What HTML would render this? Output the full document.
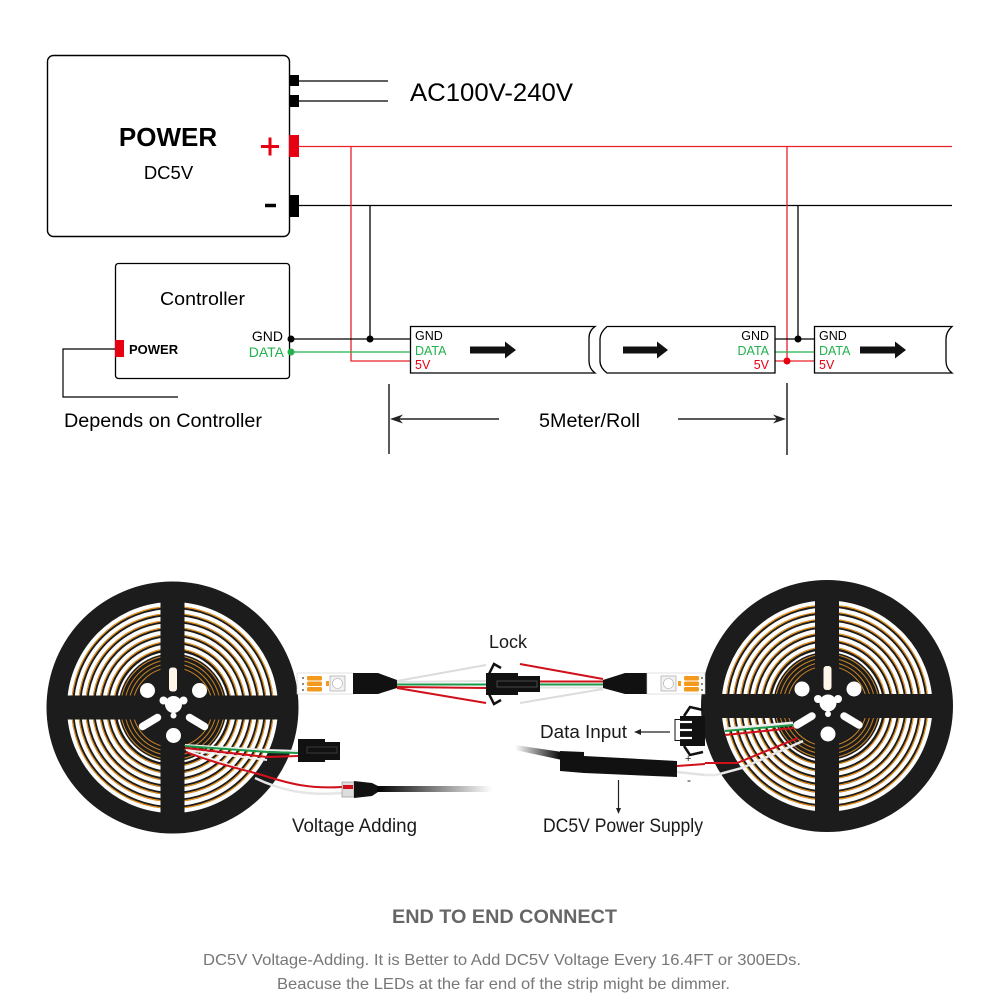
<!DOCTYPE html>
<html><head><meta charset="utf-8"><style>
html,body{margin:0;padding:0;background:#fff;}
svg{display:block;font-family:"Liberation Sans",Arial,sans-serif;}
</style></head><body>
<svg width="1000" height="1000" viewBox="0 0 1000 1000" xmlns="http://www.w3.org/2000/svg">
<defs>
  <clipPath id="win">
    <path d="M-12,-106 L-12,-12 L-106,-12 A106,106 0 0 1 -12,-106Z M12,-106 A106,106 0 0 1 106,-12 L12,-12Z M12,12 L106,12 A106,106 0 0 1 12,106Z M-12,12 L-12,106 A106,106 0 0 1 -106,12Z"/>
  </clipPath>
  <linearGradient id="cab1" x1="0" x2="1" y1="0" y2="0">
    <stop offset="0" stop-color="#000"/><stop offset="1" stop-color="#000" stop-opacity="0"/>
  </linearGradient>
  <linearGradient id="cab2" x1="0" x2="1" y1="0" y2="0">
    <stop offset="0" stop-color="#000" stop-opacity="0"/><stop offset="1" stop-color="#000"/>
  </linearGradient>
  <g id="reel">
    <circle r="126" fill="#1c1c1c"/>
    <g clip-path="url(#win)" fill="none">
      <g stroke="#fff" stroke-width="4">
        <circle r="103.5"/><circle r="96.5"/><circle r="89.5"/><circle r="82.5"/><circle r="75.5"/><circle r="68.5"/><circle r="61.5"/>
      </g>
      <g stroke="#f0961c" stroke-width="1.1">
        <circle r="100.9"/><circle r="93.9"/><circle r="86.9"/><circle r="79.9"/><circle r="72.9"/><circle r="65.9"/><circle r="58.9"/>
      </g>
      <g stroke="#fff" stroke-width="2">
        <circle r="55"/>
      </g>
      <g stroke="#c98427" stroke-width="1">
        <circle r="52"/><circle r="48"/><circle r="44"/><circle r="40"/>
      </g>
    </g>
    <rect x="-3.5" y="-40" width="8" height="24" rx="3" fill="#fff6ea"/>
    <circle cx="-25" cy="-17" r="7.5" fill="#fff"/>
    <circle cx="27" cy="-17" r="7.5" fill="#fff"/>
    <circle cx="1" cy="28" r="7.5" fill="#fff"/>
    <g fill="#fff">
      <circle cx="1" cy="-3" r="8.5"/>
      <circle cx="-9" cy="-7" r="4"/>
      <circle cx="11" cy="-7" r="4"/>
      <circle cx="1" cy="8" r="3"/>
    </g>
    <g stroke="#fff" stroke-width="7.5" stroke-linecap="round">
      <line x1="-30" y1="19" x2="-15" y2="10"/>
      <line x1="17" y1="10" x2="32" y2="19"/>
    </g>
  </g>
</defs>

<!-- ================= TOP DIAGRAM ================= -->
<rect x="47.5" y="55.5" width="242" height="181" rx="6" fill="#fff" stroke="#000" stroke-width="1.4"/>
<text x="168" y="146" font-size="26" font-weight="bold" text-anchor="middle" fill="#000">POWER</text>
<text x="168.5" y="179" font-size="18.5" text-anchor="middle" fill="#000">DC5V</text>

<rect x="289" y="75" width="10" height="11" fill="#000"/>
<rect x="289" y="95" width="10" height="12" fill="#000"/>
<rect x="289" y="135" width="10" height="22" fill="#e60012"/>
<rect x="289" y="195" width="10" height="22" fill="#000"/>
<g stroke="#e60012" stroke-width="3">
  <line x1="261" y1="146.5" x2="279" y2="146.5"/>
  <line x1="270" y1="137.5" x2="270" y2="155.5"/>
</g>
<line x1="265" y1="205.5" x2="276" y2="205.5" stroke="#000" stroke-width="3.5"/>

<g stroke="#000" stroke-width="1.3" fill="none">
  <line x1="299" y1="81" x2="388" y2="81"/>
  <line x1="299" y1="101" x2="388" y2="101"/>
  <line x1="299" y1="205.5" x2="952" y2="205.5"/>
  <line x1="370" y1="205" x2="370" y2="339"/>
  <line x1="798" y1="205" x2="798" y2="339"/>
</g>
<text x="410" y="101" font-size="25" textLength="163" lengthAdjust="spacingAndGlyphs" fill="#000">AC100V-240V</text>

<g stroke="#e8212b" stroke-width="1.3" fill="none">
  <line x1="299" y1="146.5" x2="952" y2="146.5"/>
  <polyline points="351,146 351,361 410,361"/>
  <line x1="787" y1="146" x2="787" y2="361"/>
  <line x1="775" y1="361" x2="814" y2="361"/>
</g>

<!-- Controller -->
<rect x="115.5" y="263.5" width="174" height="115" rx="3" fill="#fff" stroke="#000" stroke-width="1.3"/>
<text x="202.5" y="305" font-size="18.5" text-anchor="middle" textLength="85" lengthAdjust="spacingAndGlyphs" fill="#000">Controller</text>
<text x="283" y="341" font-size="14" text-anchor="end" fill="#000">GND</text>
<text x="284" y="357" font-size="14" text-anchor="end" fill="#22b14c">DATA</text>
<rect x="115" y="340" width="9" height="17" fill="#e60012"/>
<text x="129" y="354" font-size="13" font-weight="bold" fill="#000">POWER</text>
<polyline points="115,349 63,349 63,397 178,397" fill="none" stroke="#000" stroke-width="1.2"/>
<text x="64" y="427" font-size="19" textLength="198" lengthAdjust="spacingAndGlyphs" fill="#000">Depends on Controller</text>

<line x1="290" y1="339" x2="410" y2="339" stroke="#000" stroke-width="1.3"/>
<line x1="290" y1="352" x2="410" y2="352" stroke="#22b14c" stroke-width="1.3"/>
<circle cx="291" cy="339" r="3.5" fill="#000"/>
<circle cx="291" cy="352" r="3.5" fill="#22b14c"/>
<circle cx="370" cy="339" r="3.5" fill="#000"/>

<line x1="775" y1="339" x2="814" y2="339" stroke="#000" stroke-width="1.3"/>
<line x1="775" y1="352" x2="814" y2="352" stroke="#22b14c" stroke-width="1.3"/>
<circle cx="798" cy="339" r="3.5" fill="#000"/>
<circle cx="787" cy="361" r="3.5" fill="#e60012"/>

<!-- Strips -->
<path d="M410.5,326.5 H595 C590,330 589,334 589,338 V361 C589,366 591,370 595,373 H410.5 Z" fill="#fff" stroke="#000" stroke-width="1.3"/>
<path d="M607,326.5 H775 V373 H607 C603,370 600,366 600,361 V339 C600,334 603,330 607,326.5 Z" fill="#fff" stroke="#000" stroke-width="1.3"/>
<path d="M814.5,326.5 H952 C947,331 946,335 946,339 V361 C946,366 948,370 952,373 H814.5 Z" fill="#fff" stroke="#000" stroke-width="1.3"/>

<g font-size="12.5">
  <text x="415" y="340" fill="#000">GND</text>
  <text x="415" y="355" fill="#22b14c">DATA</text>
  <text x="415" y="369" fill="#e60012">5V</text>
  <text x="769" y="340" fill="#000" text-anchor="end">GND</text>
  <text x="769" y="355" fill="#22b14c" text-anchor="end">DATA</text>
  <text x="769" y="369" fill="#e60012" text-anchor="end">5V</text>
  <text x="819" y="340" fill="#000">GND</text>
  <text x="819" y="355" fill="#22b14c">DATA</text>
  <text x="819" y="369" fill="#e60012">5V</text>
</g>
<g fill="#111">
  <polygon points="470,346.5 505,346.5 505,341.5 516,350 505,358.5 505,353.5 470,353.5"/>
  <polygon points="623,346.5 657,346.5 657,341.5 668,350 657,358.5 657,353.5 623,353.5"/>
  <polygon points="860,346.5 895,346.5 895,341.5 906,350 895,358.5 895,353.5 860,353.5"/>
</g>

<!-- Dimension -->
<g stroke="#222" stroke-width="1.5">
  <line x1="389" y1="384" x2="389" y2="454"/>
  <line x1="787" y1="383" x2="787" y2="455"/>
  <line x1="397" y1="419" x2="499" y2="419"/>
  <line x1="678" y1="419" x2="779" y2="419"/>
</g>
<polygon points="390,419 403,414.5 399,419 403,423.5" fill="#222"/>
<polygon points="786,419 773,414.5 777,419 773,423.5" fill="#222"/>
<text x="539" y="427" font-size="19.5" textLength="101" lengthAdjust="spacingAndGlyphs" fill="#000">5Meter/Roll</text>

<!-- ================= BOTTOM PHOTO-LIKE ================= -->
<use href="#reel" transform="translate(172.5,707.5)"/>
<use href="#reel" transform="translate(827,706)"/>

<!-- reel1 wires -->
<g fill="none" stroke-width="2">
  <path d="M185,745 L267,750 L298,751" stroke="#eee"/>
  <path d="M185,746 L267,752 L298,753" stroke="#1a9a48"/>
  <path d="M185,748 L267,757 L298,756" stroke="#d0101a"/>
  <path d="M186,750 L267,760" stroke="#eee"/>
  <path d="M188,751 L253,773" stroke="#eee"/>
  <path d="M186,752 C220,765 245,770 262,775 C290,784 310,789 342,787" stroke="#d0101a"/>
  <path d="M255,778 C280,790 305,796 342,793" stroke="#e6e6e6" stroke-width="2.5"/>
</g>
<!-- small connector reel1 -->
<rect x="298" y="739" width="27" height="23" fill="#111"/>
<rect x="324" y="742" width="16" height="18" fill="#111"/>
<rect x="307" y="747" width="30" height="6" fill="none" stroke="#444" stroke-width="0.8"/>
<!-- DC plug -->
<rect x="342" y="782" width="12" height="15" fill="#ddd" stroke="#888" stroke-width="0.6"/>
<rect x="343" y="785" width="10" height="4" fill="#d0101a"/>
<polygon points="354,781 372,783 378,786 378,792 372,796 354,798" fill="#111"/>
<rect x="377" y="786" width="115" height="6" fill="url(#cab1)"/>

<!-- left strip -->
<rect x="297" y="673" width="57" height="21" fill="#fff" stroke="#ccc" stroke-width="0.6"/>
<g fill="#f39a1e">
  <rect x="307" y="676" width="15" height="4.5" rx="1.5"/>
  <rect x="307" y="681.5" width="15" height="4.5" rx="1.5"/>
  <rect x="307" y="687" width="15" height="4.5" rx="1.5"/>
</g>
<g fill="#333"><circle cx="303" cy="678" r="0.9"/><circle cx="303" cy="684" r="0.9"/><circle cx="303" cy="690" r="0.9"/></g>
<rect x="326" y="681" width="3" height="5" fill="#f39a1e"/>
<rect x="330" y="676" width="15" height="15" fill="#f2f2f2" stroke="#999" stroke-width="0.6"/>
<circle cx="337.5" cy="683.5" r="5" fill="#fff" stroke="#aaa" stroke-width="0.6"/>
<polygon points="353,673 378,673 397,680 397,688 378,694 353,694" fill="#111"/>

<!-- lock wires -->
<g fill="none" stroke-width="2">
  <line x1="397" y1="681" x2="486" y2="665" stroke="#dcdcdc"/>
  <line x1="397" y1="682" x2="486" y2="681" stroke="#e2e2e2"/>
  <line x1="397" y1="684.5" x2="486" y2="684.5" stroke="#1a9a48"/>
  <line x1="397" y1="687" x2="486" y2="688" stroke="#d0101a"/>
  <line x1="397" y1="688" x2="486" y2="703" stroke="#d0101a"/>
  <line x1="520" y1="664" x2="603" y2="679" stroke="#d0101a"/>
  <line x1="540" y1="681.5" x2="603" y2="681.5" stroke="#d0101a"/>
  <line x1="540" y1="684.5" x2="603" y2="684.5" stroke="#1a9a48"/>
  <line x1="540" y1="687.5" x2="603" y2="687.5" stroke="#e2e2e2"/>
  <line x1="520" y1="703" x2="603" y2="689" stroke="#dcdcdc"/>
</g>
<!-- lock connector -->
<rect x="486" y="673" width="32" height="22" fill="#111"/>
<rect x="517" y="676" width="23" height="16" fill="#111"/>
<rect x="497" y="681" width="40" height="6" fill="none" stroke="#555" stroke-width="0.8"/>
<g fill="none" stroke="#111" stroke-width="2.5">
  <polyline points="489,674 494,664 501,668"/>
  <polyline points="489,694 494,704 501,700"/>
</g>
<text x="489" y="648" font-size="18" textLength="38" lengthAdjust="spacingAndGlyphs" fill="#1a1a1a">Lock</text>

<!-- right strip -->
<polygon points="603,680 625,673 647,673 647,694 625,694 603,688" fill="#111"/>
<rect x="647" y="673" width="58" height="21" fill="#fff" stroke="#ccc" stroke-width="0.6"/>
<rect x="661" y="676" width="15" height="15" fill="#f2f2f2" stroke="#999" stroke-width="0.6"/>
<circle cx="668.5" cy="683.5" r="5" fill="#fff" stroke="#aaa" stroke-width="0.6"/>
<rect x="678" y="681" width="3" height="5" fill="#f39a1e"/>
<g fill="#f39a1e">
  <rect x="684" y="676" width="15" height="4.5" rx="1.5"/>
  <rect x="684" y="681.5" width="15" height="4.5" rx="1.5"/>
  <rect x="684" y="687" width="15" height="4.5" rx="1.5"/>
</g>
<g fill="#333"><circle cx="702" cy="678" r="0.9"/><circle cx="702" cy="684" r="0.9"/><circle cx="702" cy="690" r="0.9"/></g>

<!-- reel2 wires -->
<g fill="none" stroke-width="2">
  <line x1="793" y1="723" x2="725" y2="729" stroke="#eee" stroke-width="3"/>
  <line x1="793" y1="725" x2="725" y2="731" stroke="#1a9a48"/>
  <line x1="794" y1="728" x2="725" y2="735" stroke="#d0101a"/>
  <path d="M798,738 L737,763 L705,763" stroke="#d0101a"/>
  <path d="M803,741 L742,768 L716,775 L705,775" stroke="#e8e8e8" stroke-width="2.5"/>
</g>

<!-- Data input connector -->
<rect x="680" y="716" width="25" height="30" fill="#111"/>
<g stroke="#fff" stroke-width="2.2">
  <line x1="676" y1="722" x2="692" y2="722"/>
  <line x1="676" y1="730" x2="692" y2="730"/>
  <line x1="676" y1="738" x2="692" y2="738"/>
</g>
<g stroke="#111" stroke-width="1" fill="none">
  <rect x="675" y="719.5" width="18" height="21"/>
</g>
<g fill="none" stroke="#111" stroke-width="2.5">
  <polyline points="684,716 690,707 703,710"/>
  <polyline points="684,746 690,755 703,752"/>
</g>
<line x1="670" y1="732" x2="638" y2="732" stroke="#222" stroke-width="1.2"/>
<polygon points="634,732 641,729 641,735" fill="#222"/>
<text x="540" y="738" font-size="18.5" textLength="87" lengthAdjust="spacingAndGlyphs" fill="#1a1a1a">Data Input</text>

<!-- DC5V power supply -->
<polygon points="515,745 562,752 562,760 515,750" fill="url(#cab2)"/>
<polygon points="560,751 584,752 584,756 677,761 677,777 584,773 560,771" fill="#111"/>
<line x1="677" y1="766" x2="705" y2="764" stroke="#d0101a" stroke-width="2"/>
<line x1="677" y1="772" x2="705" y2="775" stroke="#e2e2e2" stroke-width="2.5"/>
<text x="685" y="762" font-size="11" fill="#222">+</text>
<text x="687" y="784" font-size="12" fill="#222">-</text>
<line x1="618.5" y1="780" x2="618.5" y2="810" stroke="#222" stroke-width="1.2"/>
<polygon points="618.5,814 616,808 621,808" fill="#222"/>

<text x="292" y="832" font-size="19" textLength="125" lengthAdjust="spacingAndGlyphs" fill="#1a1a1a">Voltage Adding</text>
<text x="543" y="832" font-size="19" textLength="160" lengthAdjust="spacingAndGlyphs" fill="#1a1a1a">DC5V Power Supply</text>

<!-- footer -->
<text x="392" y="923" font-size="19" font-weight="bold" textLength="225" lengthAdjust="spacingAndGlyphs" fill="#666">END TO END CONNECT</text>
<text x="203" y="965" font-size="16" textLength="598" lengthAdjust="spacingAndGlyphs" fill="#777">DC5V Voltage-Adding. It is Better to Add DC5V Voltage Every 16.4FT or 300EDs.</text>
<text x="277" y="989" font-size="16" textLength="453" lengthAdjust="spacingAndGlyphs" fill="#777">Beacuse the LEDs at the far end of the strip might be dimmer.</text>
</svg>
</body></html>
